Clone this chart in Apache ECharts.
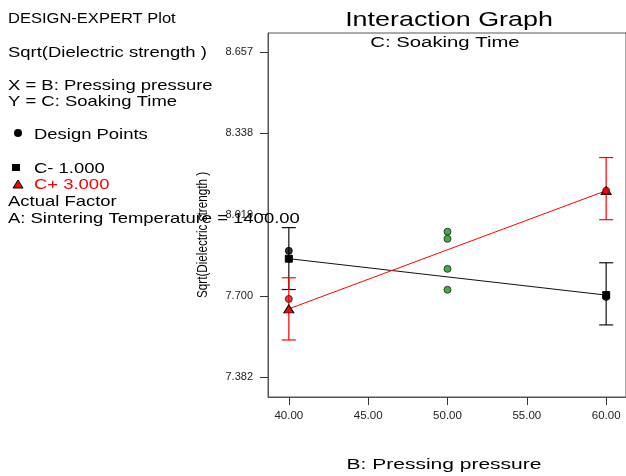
<!DOCTYPE html>
<html>
<head>
<meta charset="utf-8">
<script src="https://cdn.jsdelivr.net/npm/echarts@6/dist/echarts.min.js"></script>
<style>
  html, body { margin: 0; padding: 0; background: #fff; }
  #chart { width: 626px; height: 476px; }
</style>
</head>
<body>
<div id="chart"></div>
<script>
// Pressing pressure levels (factor B)
const pressureTicks = [40, 45, 50, 55, 60];
const yTicks = [7.382, 7.700, 8.019, 8.338, 8.657];

// Predicted mean lines for Soaking Time C- (1.000) and C+ (3.000)
const lowSoakLine = [[40, 7.846], [60, 7.703]];
const highSoakLine = [[40, 7.649], [60, 8.113]];

// LSD bars: [pressure, lower, upper]
const lowSoakBars = [[40, 7.725, 7.968], [60, 7.586, 7.830]];
const highSoakBars = [[40, 7.527, 7.771], [60, 7.999, 8.243]];

// Design points
const lowSoakPoints = [[40, 7.877], [60, 7.696]];
const highSoakPoints = [[40, 7.688], [60, 8.113]];
const centerPoints = [[50, 7.952], [50, 7.924], [50, 7.806], [50, 7.724]];

const FONT = '"Liberation Sans", Arial, sans-serif';

function barSeries(data, color) {
  return {
    type: 'custom',
    data: data,
    z: 1,
    renderItem: function (params, api) {
      const x = api.value(0);
      const lo = api.coord([x, api.value(1)]);
      const hi = api.coord([x, api.value(2)]);
      const hw = 7;
      const st = { stroke: color, lineWidth: 1.2 };
      return {
        type: 'group',
        children: [
          { type: 'line', shape: { x1: lo[0], y1: lo[1], x2: hi[0], y2: hi[1] }, style: st },
          { type: 'line', shape: { x1: hi[0] - hw, y1: hi[1], x2: hi[0] + hw, y2: hi[1] }, style: st },
          { type: 'line', shape: { x1: lo[0] - hw, y1: lo[1], x2: lo[0] + hw, y2: lo[1] }, style: st }
        ]
      };
    }
  };
}

// Widened text helper: the plot's lettering is set wide, so stretch horizontally
function wideText(txt, x, y, size, sx, color, align) {
  return {
    type: 'text', x: x, y: y, scaleX: sx, z: 10,
    style: {
      text: txt, font: size + 'px ' + FONT, fill: color || '#000',
      align: align || 'left', verticalAlign: 'middle'
    }
  };
}

const chart = echarts.init(document.getElementById('chart'), null, { renderer: 'canvas' });

chart.setOption({
  animation: false,
  backgroundColor: '#fff',
  grid: {
    left: 268, right: -2, top: 33, bottom: 79,
    show: true, borderColor: '#555', borderWidth: 1
  },
  xAxis: {
    type: 'value', min: 38.6875, max: 61.25,
    splitLine: { show: false },
    axisLine: { show: true, lineStyle: { color: '#555' } },
    axisTick: { show: true, length: 8, inside: false, customValues: pressureTicks, lineStyle: { color: '#333' } },
    axisLabel: {
      customValues: pressureTicks, margin: 13, color: '#222', fontSize: 11.5, fontFamily: FONT,
      formatter: v => v.toFixed(2)
    }
  },
  yAxis: {
    type: 'value', min: 7.303, max: 8.732,
    splitLine: { show: false },
    axisLine: { show: true, lineStyle: { color: '#555' } },
    axisTick: { show: true, length: 8, inside: false, customValues: yTicks, lineStyle: { color: '#333' } },
    axisLabel: {
      customValues: yTicks, margin: 15, color: '#222', fontSize: 11, fontFamily: FONT,
      formatter: v => v.toFixed(3)
    }
  },
  series: [
    barSeries(lowSoakBars, '#111'),
    barSeries(highSoakBars, '#ff0000'),
    {
      type: 'line', data: lowSoakLine, z: 3,
      lineStyle: { color: '#111', width: 1 },
      symbol: 'rect', symbolSize: 7,
      itemStyle: { color: '#000', borderColor: '#000' }
    },
    {
      type: 'line', data: highSoakLine, z: 3,
      lineStyle: { color: '#ff0000', width: 1 },
      symbol: 'triangle', symbolSize: [10, 8],
      itemStyle: { color: '#ff0000', borderColor: '#000', borderWidth: 1 }
    },
    {
      type: 'scatter', data: lowSoakPoints, z: 4, symbol: 'circle', symbolSize: 7,
      itemStyle: { color: '#000', borderColor: '#000', borderWidth: 1 }
    },
    {
      type: 'scatter', data: highSoakPoints, z: 4, symbol: 'circle', symbolSize: 7,
      itemStyle: { color: '#ff0000', borderColor: '#222', borderWidth: 1 }
    },
    {
      type: 'scatter', data: centerPoints, z: 4, symbol: 'circle', symbolSize: 7,
      itemStyle: { color: '#119911', borderColor: '#222', borderWidth: 1 }
    }
  ],
  graphic: [
    wideText('DESIGN-EXPERT Plot', 8, 19, 14, 1.18),
    wideText('Sqrt(Dielectric strength )', 8, 53, 15, 1.23),
    wideText('X = B: Pressing pressure', 8, 86, 15, 1.23),
    wideText('Y = C: Soaking Time', 8, 102, 15, 1.23),
    wideText('Design Points', 34, 135, 15, 1.23),
    { type: 'circle', shape: { cx: 18, cy: 133, r: 4 }, style: { fill: '#000' } },
    wideText('C- 1.000', 34, 169, 15, 1.23),
    { type: 'rect', shape: { x: 12, y: 164, width: 8, height: 7 }, style: { fill: '#000' } },
    wideText('C+ 3.000', 34, 185, 15, 1.23, '#ff0000'),
    { type: 'polygon', shape: { points: [[18, 180], [23, 188], [13, 188]] }, style: { fill: '#ff0000', stroke: '#000', lineWidth: 1 } },
    wideText('Actual Factor', 8, 202, 15, 1.23),
    wideText('A: Sintering Temperature = 1400.00', 8, 219, 15, 1.23),
    wideText('Interaction Graph', 449, 20, 21, 1.28, '#000', 'center'),
    wideText('C: Soaking Time', 445, 43, 14, 1.45, '#000', 'center'),
    wideText('B: Pressing pressure', 444, 465, 15, 1.4, '#000', 'center'),
    {
      type: 'text', x: 203, y: 235, rotation: Math.PI / 2, scaleX: 0.78,
      style: { text: 'Sqrt(Dielectric strength )', font: '15px ' + FONT, fill: '#000', align: 'center', verticalAlign: 'middle' }
    }
  ]
});
</script>
</body>
</html>
